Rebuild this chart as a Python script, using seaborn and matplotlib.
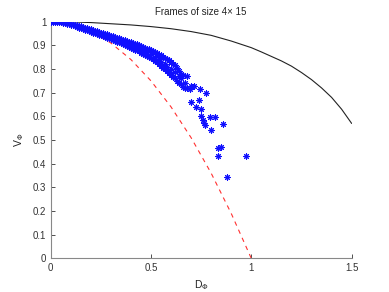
import matplotlib
matplotlib.use("Agg")
import matplotlib.pyplot as plt
import seaborn as sns
import pandas as pd

# Black solid curve
curve_d = [0.0, 0.1, 0.2, 0.3, 0.4, 0.5, 0.6, 0.7, 0.8, 0.9, 1.0, 1.05, 1.1, 1.15,
           1.2, 1.25, 1.3, 1.35, 1.4, 1.45, 1.5]
curve_v = [1.0, 0.999, 0.996, 0.991, 0.986, 0.979, 0.97, 0.958, 0.942, 0.918, 0.89,
           0.872, 0.853, 0.834, 0.812, 0.785, 0.755, 0.72, 0.68, 0.63, 0.57]

# Red dashed curve
bound_d = [0.0, 0.1, 0.2, 0.3, 0.4, 0.5, 0.6, 0.7, 0.8, 0.9, 1.0]
bound_v = [1.0, 0.99, 0.96, 0.91, 0.84, 0.75, 0.64, 0.51, 0.36, 0.19, 0.0]

# Scatter of frames
pts = [
    (0.00, 1.0), (0.00, 0.999), (0.01, 1.0), (0.02, 1.0), (0.02, 0.998), (0.03, 0.999),
    (0.04, 0.999), (0.04, 0.997), (0.05, 0.998), (0.06, 0.997), (0.06, 0.995), (0.07, 0.996),
    (0.08, 0.994), (0.08, 0.991), (0.09, 0.993), (0.10, 0.99), (0.10, 0.986), (0.11, 0.988),
    (0.12, 0.986), (0.12, 0.982),
    (0.13, 0.984), (0.13, 0.977), (0.14, 0.981), (0.14, 0.974), (0.15, 0.98), (0.15, 0.972),
    (0.16, 0.977), (0.16, 0.969), (0.17, 0.975), (0.17, 0.966), (0.18, 0.972), (0.18, 0.963),
    (0.19, 0.97), (0.19, 0.96), (0.20, 0.967), (0.20, 0.957), (0.21, 0.965), (0.21, 0.954),
    (0.22, 0.962), (0.22, 0.951), (0.23, 0.959), (0.23, 0.948), (0.24, 0.957), (0.24, 0.945),
    (0.24, 0.951), (0.25, 0.954), (0.25, 0.942), (0.26, 0.951), (0.26, 0.939), (0.26, 0.946),
    (0.27, 0.949), (0.27, 0.936), (0.28, 0.946), (0.28, 0.932), (0.28, 0.94), (0.29, 0.943),
    (0.29, 0.929), (0.30, 0.941), (0.30, 0.926), (0.30, 0.934), (0.31, 0.938), (0.31, 0.922),
    (0.32, 0.935), (0.32, 0.919), (0.32, 0.928), (0.33, 0.932), (0.33, 0.915), (0.34, 0.93),
    (0.34, 0.912), (0.34, 0.921), (0.35, 0.927), (0.35, 0.908), (0.36, 0.924), (0.36, 0.905),
    (0.36, 0.914), (0.37, 0.921), (0.37, 0.901), (0.38, 0.918), (0.38, 0.898), (0.38, 0.908),
    (0.39, 0.915), (0.39, 0.894), (0.40, 0.913), (0.40, 0.89), (0.40, 0.902), (0.41, 0.91),
    (0.41, 0.886), (0.42, 0.907), (0.42, 0.882), (0.42, 0.895), (0.43, 0.904), (0.43, 0.878),
    (0.44, 0.90), (0.44, 0.874), (0.44, 0.888), (0.45, 0.897), (0.45, 0.869), (0.46, 0.894),
    (0.46, 0.865), (0.46, 0.88), (0.47, 0.89), (0.47, 0.861), (0.48, 0.886), (0.48, 0.856),
    (0.48, 0.872), (0.49, 0.883), (0.49, 0.851), (0.50, 0.878), (0.50, 0.846), (0.50, 0.862),
    (0.51, 0.874), (0.51, 0.84), (0.52, 0.87), (0.52, 0.834), (0.52, 0.852), (0.53, 0.866),
    (0.53, 0.828), (0.54, 0.861), (0.54, 0.82), (0.54, 0.84), (0.55, 0.857), (0.55, 0.814),
    (0.55, 0.83), (0.56, 0.852), (0.56, 0.806), (0.57, 0.848), (0.57, 0.80), (0.57, 0.822),
    (0.58, 0.843), (0.58, 0.792), (0.58, 0.81), (0.59, 0.836), (0.59, 0.785), (0.60, 0.83),
    (0.60, 0.776), (0.60, 0.80), (0.61, 0.822), (0.61, 0.768), (0.62, 0.815), (0.62, 0.76),
    (0.62, 0.788), (0.63, 0.806), (0.63, 0.75), (0.64, 0.79), (0.64, 0.742), (0.64, 0.77),
    (0.65, 0.78), (0.65, 0.735), (0.65, 0.76), (0.66, 0.775), (0.66, 0.725), (0.67, 0.74),
    (0.67, 0.72), (0.68, 0.77), (0.68, 0.72),
    (0.70, 0.73), (0.694, 0.714), (0.716, 0.73), (0.744, 0.714), (0.772, 0.70),
    (0.70, 0.66), (0.727, 0.64), (0.741, 0.67), (0.75, 0.63), (0.75, 0.60),
    (0.76, 0.585), (0.77, 0.563), (0.765, 0.572), (0.794, 0.596), (0.819, 0.596),
    (0.80, 0.542), (0.857, 0.568), (0.836, 0.465), (0.85, 0.472), (0.836, 0.434),
    (0.973, 0.434), (0.879, 0.342),
]
frame_d = [p[0] for p in pts]
frame_v = [p[1] for p in pts]

sns.set_style("white")
plt.rcParams['font.family'] = ['Liberation Sans', 'DejaVu Sans']

fig = plt.figure(figsize=(3.89, 2.92), dpi=100)
ax = fig.add_axes([0.130, 0.115, 0.774, 0.811])

df_s = pd.DataFrame({"D": frame_d, "V": frame_v})
ax.plot(df_s["D"], df_s["V"], linestyle="none", marker=(8, 2, 0), color="#1010ff",
        markersize=4.5, markeredgewidth=0.75, zorder=3)
sns.lineplot(x=curve_d, y=curve_v, ax=ax, color="#222222", linewidth=0.8, sort=False)
sns.lineplot(x=bound_d, y=bound_v, ax=ax, color="#ff3030", linewidth=0.8, sort=False,
             dashes=False, linestyle=(0, (4, 4)))

ax.set_xlim(0, 1.5)
ax.set_ylim(0, 1)
ax.set_xticks([0, 0.5, 1, 1.5])
ax.set_xticklabels(["0", "0.5", "1", "1.5"])
yt = [0, 0.1, 0.2, 0.3, 0.4, 0.5, 0.6, 0.7, 0.8, 0.9, 1]
ax.set_yticks(yt)
ax.set_yticklabels(["0", "0.1", "0.2", "0.3", "0.4", "0.5", "0.6", "0.7", "0.8", "0.9", "1"])
ax.tick_params(direction="in", length=3, width=0.6, labelsize=7, colors="#333333",
               bottom=True, left=True, pad=3)
for s in ["top", "right"]:
    ax.spines[s].set_visible(False)
for s in ["left", "bottom"]:
    ax.spines[s].set_color("#888888")
    ax.spines[s].set_linewidth(0.8)

ax.set_xlabel("D$_\\Phi$", fontsize=7.5, color="#222222", labelpad=4)
ax.set_ylabel("V$_\\Phi$", fontsize=7.5, color="#222222", labelpad=5)
ax.set_title("Frames of size 4× 15", fontsize=7, color="#222222", pad=5)

fig.savefig("out.png", dpi=100)
